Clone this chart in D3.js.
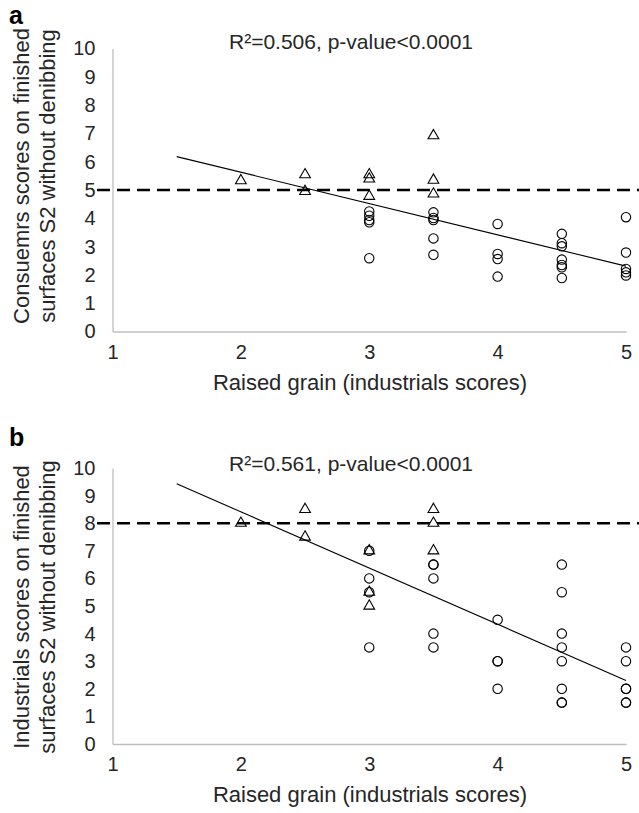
<!DOCTYPE html>
<html>
<head>
<meta charset="utf-8">
<script src="https://cdn.jsdelivr.net/npm/d3@7"></script>
<style>
  html, body { margin: 0; padding: 0; background: #fff; }
  svg { display: block; }
  text { font-family: "Liberation Sans", Arial, sans-serif; fill: #262626; }
</style>
</head>
<body>
<script>
// ---------- data ----------
const xTicks = [1, 2, 3, 4, 5];
const yTicks = [0, 1, 2, 3, 4, 5, 6, 7, 8, 9, 10];

// Panel a: consumers scores vs raised grain (industrials scores)
const consumersTriangles = [
  [2, 5.33], [2.5, 5.54], [2.5, 4.95], [3, 5.54], [3, 5.39], [3, 4.78],
  [3.5, 6.92], [3.5, 5.35], [3.5, 4.86]
];
const consumersCircles = [
  [3, 4.24], [3, 4.09], [3, 3.94], [3, 3.86], [3, 2.59],
  [3.5, 4.21], [3.5, 4.01], [3.5, 3.94], [3.5, 3.29], [3.5, 2.71],
  [4, 3.8], [4, 2.74], [4, 2.56], [4, 1.94],
  [4.5, 3.45], [4.5, 3.12], [4.5, 3.01], [4.5, 2.54], [4.5, 2.35], [4.5, 2.27], [4.5, 1.89],
  [5, 4.04], [5, 2.79], [5, 2.21], [5, 2.09], [5, 1.98]
];
const consumersTrend = [[1.5, 6.18], [5, 2.31]];
const consumersThreshold = 5;

// Panel b: industrials scores vs raised grain (industrials scores)
const industrialsTriangles = [
  [2, 8], [2.5, 8.5], [2.5, 7.5], [3, 7], [3, 5.5], [3, 5],
  [3.5, 8.5], [3.5, 8], [3.5, 7]
];
const industrialsCircles = [
  [3, 7], [3, 6], [3, 5.5], [3, 3.5],
  [3.5, 6.5], [3.5, 6.5], [3.5, 6], [3.5, 4], [3.5, 3.5],
  [4, 4.5], [4, 3], [4, 3], [4, 2],
  [4.5, 6.5], [4.5, 5.5], [4.5, 4], [4.5, 3.5], [4.5, 3], [4.5, 2], [4.5, 1.5], [4.5, 1.5],
  [5, 3.5], [5, 3], [5, 2], [5, 2], [5, 1.5], [5, 1.5]
];
const industrialsTrend = [[1.5, 9.43], [5, 2.3]];
const industrialsThreshold = 8;

const panels = [
  { letter: "a", title: "R²=0.506, p-value<0.0001",
    yLabel: ["Consuemrs scores on finished", "surfaces S2 without denibbing"],
    xLabel: "Raised grain (industrials scores)",
    tri: consumersTriangles, circ: consumersCircles, trend: consumersTrend, thr: consumersThreshold,
    top: 48.5, bottom: 331.5, letterY: 24, titleY: 49, yLabCenter: 176 },
  { letter: "b", title: "R²=0.561, p-value<0.0001",
    yLabel: ["Industrials scores on finished", "surfaces S2 without denibbing"],
    xLabel: "Raised grain (industrials scores)",
    tri: industrialsTriangles, circ: industrialsCircles, trend: industrialsTrend, thr: industrialsThreshold,
    top: 468, bottom: 744, letterY: 446, titleY: 471, yLabCenter: 607 }
];

// ---------- drawing ----------
const W = 639, H = 813;
const svg = d3.select("body").append("svg").attr("width", W).attr("height", H);

const left = 112.5, right = 626;
const x = d3.scaleLinear().domain([1, 5]).range([left, right]);

panels.forEach(p => {
  const y = d3.scaleLinear().domain([0, 10]).range([p.bottom, p.top]);
  const g = svg.append("g");

  // panel letter
  g.append("text").attr("x", 9).attr("y", p.letterY)
    .attr("font-size", 25).attr("font-weight", "bold").style("fill", "#000").text(p.letter);

  // title
  g.append("text").attr("x", 351).attr("y", p.titleY).attr("text-anchor", "middle")
    .attr("font-size", 21).text(p.title);

  // axes
  const yAxis = d3.axisLeft(y).tickValues(yTicks).tickSize(0).tickPadding(17).tickFormat(d3.format("d"));
  const gy = g.append("g").attr("transform", `translate(${left},0)`).call(yAxis);
  const xAxis = d3.axisBottom(x).tickValues(xTicks).tickSize(0).tickPadding(13).tickFormat(d3.format("d"));
  const gx = g.append("g").attr("transform", `translate(0,${p.bottom})`).call(xAxis);
  [gx, gy].forEach(a => {
    a.select(".domain").attr("stroke", "#bfbfbf").attr("stroke-width", 1.3);
    a.selectAll("text").attr("font-size", 20).style("font-family", '"Liberation Sans", Arial, sans-serif').style("fill", "#262626");
  });

  // y label (two lines)
  const yl = g.append("text").attr("transform", `translate(0,${p.yLabCenter}) rotate(-90)`)
    .attr("text-anchor", "middle").attr("font-size", 22);
  yl.append("tspan").attr("x", 0).attr("y", 29).text(p.yLabel[0]);
  yl.append("tspan").attr("x", 0).attr("y", 55).text(p.yLabel[1]);

  // x label
  g.append("text").attr("x", 370).attr("y", p.bottom + 58).attr("text-anchor", "middle")
    .attr("font-size", 22).text(p.xLabel);

  // threshold dashed line
  g.append("line").attr("x1", 97).attr("x2", W)
    .attr("y1", y(p.thr)).attr("y2", y(p.thr))
    .attr("stroke", "#000").attr("stroke-width", 2.6).attr("stroke-dasharray", "13,7");

  // trend line
  g.append("path").datum(p.trend)
    .attr("d", d3.line().x(d => x(d[0])).y(d => y(d[1])))
    .attr("fill", "none").attr("stroke", "#000").attr("stroke-width", 1.1);

  // circles
  g.selectAll("circle.pt").data(p.circ).join("circle").attr("class", "pt")
    .attr("cx", d => x(d[0])).attr("cy", d => y(d[1])).attr("r", 4.7)
    .attr("fill", "none").attr("stroke", "#000").attr("stroke-width", 1.1);

  // triangles
  const tri = d3.symbol().type(d3.symbolTriangle).size(50);
  g.selectAll("path.tri").data(p.tri).join("path").attr("class", "tri")
    .attr("d", tri)
    .attr("transform", d => `translate(${x(d[0])},${y(d[1])})`)
    .attr("fill", "none").attr("stroke", "#000").attr("stroke-width", 1.1);
});
</script>
</body>
</html>
